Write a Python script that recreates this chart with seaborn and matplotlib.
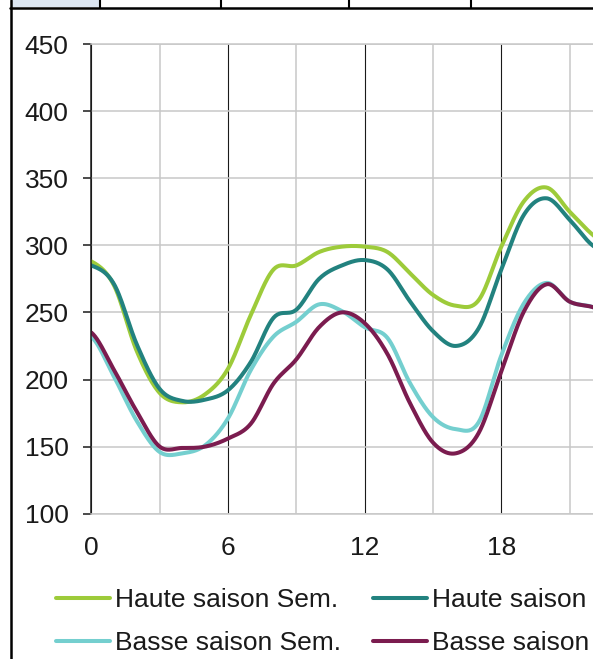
import numpy as np
import pandas as pd
import matplotlib
matplotlib.use("Agg")
import matplotlib.pyplot as plt
from matplotlib.lines import Line2D
from matplotlib.patches import Rectangle
from matplotlib.ticker import MultipleLocator
import seaborn as sns

# Hourly consumption profiles (0h .. 24h)
heures = list(range(25))
haute_sem = [288, 270, 221, 190, 183, 189, 208, 248, 282, 285, 295, 299, 299,
             295, 279, 263, 255, 259, 299, 333, 343, 325, 308, 296, 288]
haute_we = [285, 271, 226, 193, 184, 185, 192, 213, 246, 252, 275, 285, 289,
            282, 258, 236, 225, 238, 282, 323, 335, 319, 300, 292, 285]
basse_sem = [232, 202, 169, 146, 145, 151, 171, 207, 232, 243, 256, 251, 239,
             231, 197, 172, 163, 168, 218, 257, 272, 258, 254, 245, 232]
basse_we = [235, 207, 176, 150, 149, 150, 156, 167, 197, 215, 239, 250, 242,
            219, 182, 153, 145, 160, 206, 251, 271, 258, 254, 248, 235]

series = {
    "Haute saison Sem.": haute_sem,
    "Basse saison Sem.": basse_sem,
    "Haute saison W-E": haute_we,
    "Basse saison W-E": basse_we,
}
couleurs = {
    "Haute saison Sem.": "#9DCB3A",
    "Basse saison Sem.": "#74CFCF",
    "Haute saison W-E": "#22827F",
    "Basse saison W-E": "#7B1C4F",
}
x_ticks = [0, 6, 12, 18]
y_ticks = [100, 150, 200, 250, 300, 350, 400, 450]


def lissage(x, y, n=24):
    """Smoothed line through the points (Catmull-Rom, as spreadsheet smoothing)."""
    x = np.asarray(x, float)
    y = np.asarray(y, float)
    yp = np.concatenate([[y[0]], y, [y[-1]]])
    xs, ys = [], []
    t = np.linspace(0, 1, n, endpoint=False)
    for i in range(len(y) - 1):
        p0, p1, p2, p3 = yp[i], yp[i + 1], yp[i + 2], yp[i + 3]
        seg = 0.5 * (2 * p1 + (-p0 + p2) * t
                     + (2 * p0 - 5 * p1 + 4 * p2 - p3) * t ** 2
                     + (-p0 + 3 * p1 - 3 * p2 + p3) * t ** 3)
        xs.append(x[i] + t * (x[i + 1] - x[i]))
        ys.append(seg)
    xs.append([x[-1]])
    ys.append([y[-1]])
    return np.concatenate(xs), np.concatenate(ys)


frames = []
for nom, vals in series.items():
    xs, ys = lissage(heures, vals)
    frames.append(pd.DataFrame({"heure": xs, "valeur": ys, "serie": nom}))
df = pd.concat(frames, ignore_index=True)

sns.set_theme(style="white")
plt.rcParams["font.family"] = ["Liberation Sans", "DejaVu Sans"]
texte = "#1a1a1a"

W, H = 593, 659
fig = plt.figure(figsize=(W / 100, H / 100), dpi=100)
fig.patch.set_facecolor("white")

# plot area in pixel units (the 24h axis runs past the right edge)
x0, y_top, y_bot, px_h = 91.3, 44.0, 513.7, 22.78
ax = fig.add_axes([x0 / W, 1 - y_bot / H, px_h * 24 / W, (y_bot - y_top) / H])

sns.lineplot(data=df, x="heure", y="valeur", hue="serie",
             hue_order=list(series.keys()), palette=couleurs,
             linewidth=2.9, legend=False, ax=ax, sort=False)

ax.set_xlim(0, 24)
ax.set_ylim(100, 450)
ax.set_xticks(x_ticks)
ax.xaxis.set_minor_locator(MultipleLocator(3))
ax.set_yticks(y_ticks)
ax.set_xlabel("")
ax.set_ylabel("")

ax.set_axisbelow(True)
ax.grid(which="major", axis="y", color="#c8c8c8", linewidth=1.1)
ax.grid(which="minor", axis="x", color="#c8c8c8", linewidth=1.1)
ax.grid(which="major", axis="x", color="#1a1a1a", linewidth=0.8)

for side in ["top", "bottom"]:
    ax.spines[side].set_color("#c8c8c8")
    ax.spines[side].set_linewidth(1.1)
ax.spines["right"].set_visible(False)
ax.spines["left"].set_color("#1a1a1a")
ax.spines["left"].set_linewidth(1.1)

ax.tick_params(axis="x", which="both", length=0, pad=16, labelsize=19,
               labelcolor=texte)
ax.tick_params(axis="y", which="major", length=6, width=1.1, color="#1a1a1a",
               direction="out", pad=10.5, labelsize=19, labelcolor=texte, left=True)

# legend: two columns, second one running off the right edge
noms = list(series.keys())
handles = [Line2D([0], [0], color=couleurs[n], linewidth=2.9) for n in noms]
fig.legend(handles, noms, ncol=2, loc="upper left",
           bbox_to_anchor=(55.6 / W, 1 - 588 / H), frameon=False,
           fontsize=19, handlelength=2.05, handletextpad=0.2,
           columnspacing=1.2, labelspacing=0.72, borderpad=0,
           borderaxespad=0, labelcolor=texte)


# spreadsheet cell borders around the chart object
def fx(px):
    return px / W


def fy(py):
    return 1 - py / H


fig.add_artist(Rectangle((fx(12), fy(6.5)), fx(99) - fx(12), fy(0) - fy(6.5),
                         transform=fig.transFigure, facecolor="#DCE6F2",
                         edgecolor="none"))
fig.add_artist(Line2D([fx(10), fx(593)], [fy(7.5), fy(7.5)],
                      transform=fig.transFigure, color="black", linewidth=1.8))
for xc in [99.5, 221, 349, 471]:
    fig.add_artist(Line2D([fx(xc), fx(xc)], [fy(0), fy(7.5)],
                          transform=fig.transFigure, color="black", linewidth=1.5))
fig.add_artist(Line2D([fx(11), fx(11)], [fy(0), fy(659)],
                      transform=fig.transFigure, color="black", linewidth=1.8))

fig.savefig("out.png", dpi=100, facecolor="white")
